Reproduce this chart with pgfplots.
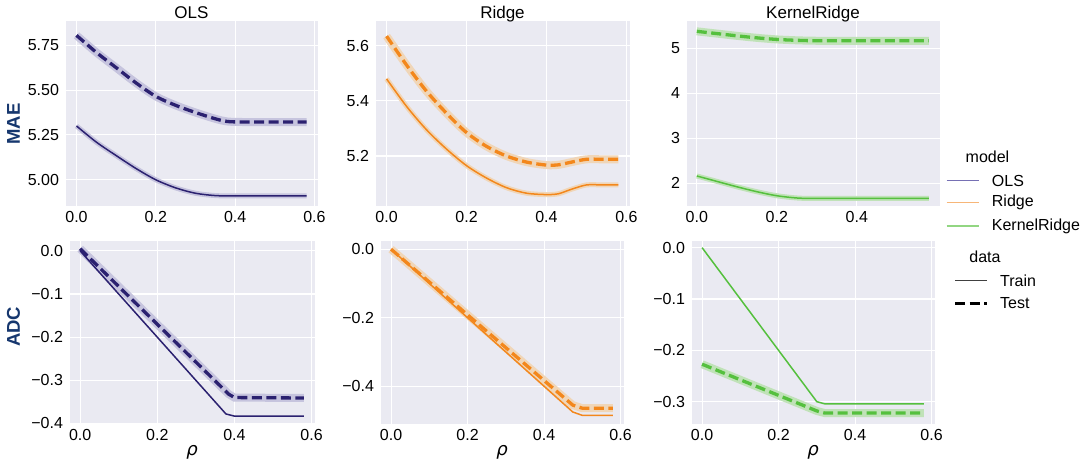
\documentclass[border=0pt]{standalone}
\usepackage{pgfplots}
\pgfplotsset{compat=1.18}
\usepackage{fontspec}
\setmainfont{Liberation Sans}
\newfontfamily\dejavu{DejaVu Sans}
\definecolor{bgc}{RGB}{234,234,242}
\definecolor{olsc}{RGB}{43,33,112}
\definecolor{ridc}{RGB}{243,135,28}
\definecolor{krc}{RGB}{85,192,62}
\definecolor{olsb}{RGB}{198,196,222}
\definecolor{ridb}{RGB}{240,214,184}
\definecolor{krb}{RGB}{192,226,184}
\definecolor{labc}{RGB}{22,55,110}
\definecolor{olsl}{RGB}{118,112,180}
\definecolor{ridl}{RGB}{247,182,120}
\definecolor{krl}{RGB}{146,214,130}
\pgfplotsset{
  sb/.style={scale only axis, anchor=south west,
    axis background/.style={fill=bgc},
    grid=major, major grid style={white, line width=1.1bp},
    axis line style={white, line width=1bp},
    major tick length=0pt,
    tick label style={font=\fontsize{16bp}{19bp}\selectfont},
    xticklabel style={yshift=-1.5bp},
    yticklabel style={xshift=-2.5bp},
    xmin=-0.029, xmax=0.609,
    xtick={0,0.2,0.4,0.6}, xticklabels={0.0,0.2,0.4,0.6},
    every axis title/.style={font=\fontsize{17bp}{20bp}\selectfont, at={(0.5,1)}, anchor=base, yshift=2.8bp},
  },
  xl/.style={xlabel={{\dejavu\itshape\fontsize{18bp}{20bp}\selectfont ρ}},
    xlabel style={at={(axis description cs:0.5,0)}, anchor=center, yshift=-28bp}},
  testband/.style={line width=8bp, #1},
  trainband/.style={line width=5bp, #1},
  testline/.style={line width=3.3bp, dash pattern=on 10bp off 4.5bp, #1},
  trainline/.style={line width=1.5bp, #1},
}
\begin{document}
\begin{tikzpicture}
\path[use as bounding box] (0,0) rectangle (1084bp,469bp);

% ---------- top row: MAE ----------
\begin{axis}[sb, at={(65bp,262.3bp)}, width=253bp, height=185.7bp,
  title={OLS}, ymin=4.85, ymax=5.885,
  ytick={5,5.25,5.5,5.75}, yticklabels={5.00,5.25,5.50,5.75}]
\addplot[testband=olsb, smooth] coordinates {(0,5.805)(0.05,5.71)(0.1,5.625)(0.15,5.54)(0.2,5.465)(0.25,5.415)(0.3,5.375)(0.35,5.34)(0.38,5.325)(0.42,5.322)(0.5,5.322)(0.58,5.322)};
\addplot[trainband=olsb, smooth] coordinates {(0,5.30)(0.05,5.21)(0.1,5.135)(0.15,5.063)(0.2,5.00)(0.25,4.955)(0.3,4.925)(0.35,4.912)(0.4,4.91)(0.5,4.91)(0.58,4.91)};
\addplot[testline=olsc, smooth] coordinates {(0,5.805)(0.05,5.71)(0.1,5.625)(0.15,5.54)(0.2,5.465)(0.25,5.415)(0.3,5.375)(0.35,5.34)(0.38,5.325)(0.42,5.322)(0.5,5.322)(0.58,5.322)};
\addplot[trainline=olsc, smooth] coordinates {(0,5.30)(0.05,5.21)(0.1,5.135)(0.15,5.063)(0.2,5.00)(0.25,4.955)(0.3,4.925)(0.35,4.912)(0.4,4.91)(0.5,4.91)(0.58,4.91)};
\end{axis}

\begin{axis}[sb, at={(375bp,262.3bp)}, width=255bp, height=185.7bp,
  title={Ridge}, ymin=5.016, ymax=5.69,
  ytick={5.2,5.4,5.6}, yticklabels={5.2,5.4,5.6}]
\addplot[testband=ridb, smooth] coordinates {(0,5.635)(0.05,5.53)(0.1,5.435)(0.15,5.355)(0.2,5.285)(0.25,5.235)(0.3,5.20)(0.35,5.178)(0.4,5.167)(0.43,5.168)(0.46,5.177)(0.5,5.188)(0.54,5.188)(0.58,5.188)};
\addplot[trainband=ridb, smooth] coordinates {(0,5.48)(0.05,5.38)(0.1,5.295)(0.15,5.225)(0.2,5.165)(0.25,5.12)(0.3,5.085)(0.35,5.065)(0.4,5.06)(0.43,5.063)(0.46,5.078)(0.5,5.095)(0.54,5.095)(0.58,5.095)};
\addplot[testline=ridc, smooth] coordinates {(0,5.635)(0.05,5.53)(0.1,5.435)(0.15,5.355)(0.2,5.285)(0.25,5.235)(0.3,5.20)(0.35,5.178)(0.4,5.167)(0.43,5.168)(0.46,5.177)(0.5,5.188)(0.54,5.188)(0.58,5.188)};
\addplot[trainline=ridc, smooth] coordinates {(0,5.48)(0.05,5.38)(0.1,5.295)(0.15,5.225)(0.2,5.165)(0.25,5.12)(0.3,5.085)(0.35,5.065)(0.4,5.06)(0.43,5.063)(0.46,5.078)(0.5,5.095)(0.54,5.095)(0.58,5.095)};
\end{axis}

\begin{axis}[sb, at={(686bp,262.3bp)}, width=254bp, height=185.7bp,
  title={KernelRidge}, ymin=1.476, ymax=5.61, xmin=-0.027, xmax=0.608,
  xtick={0,0.2,0.4}, xticklabels={0.0,0.2,0.4},
  ytick={2,3,4,5}, yticklabels={2,3,4,5}]
\addplot[testband=krb, smooth] coordinates {(0,5.38)(0.05,5.33)(0.1,5.28)(0.15,5.235)(0.2,5.20)(0.25,5.18)(0.3,5.17)(0.4,5.17)(0.5,5.17)(0.58,5.17)};
\addplot[trainband=krb, smooth] coordinates {(0,2.16)(0.05,2.04)(0.1,1.92)(0.15,1.81)(0.2,1.72)(0.25,1.67)(0.29,1.66)(0.4,1.66)(0.5,1.66)(0.58,1.66)};
\addplot[testline=krc, smooth] coordinates {(0,5.38)(0.05,5.33)(0.1,5.28)(0.15,5.235)(0.2,5.20)(0.25,5.18)(0.3,5.17)(0.4,5.17)(0.5,5.17)(0.58,5.17)};
\addplot[trainline=krc, smooth] coordinates {(0,2.16)(0.05,2.04)(0.1,1.92)(0.15,1.81)(0.2,1.72)(0.25,1.67)(0.29,1.66)(0.4,1.66)(0.5,1.66)(0.58,1.66)};
\end{axis}

% ---------- bottom row: ADC ----------
\begin{axis}[sb, xl, at={(69bp,44.7bp)}, width=246bp, height=183.3bp,
  ymin=-0.402, ymax=0.023,
  ytick={0,-0.1,-0.2,-0.3,-0.4}, yticklabels={0.0,−0.1,−0.2,−0.3,−0.4}]
\addplot[testband=olsb] coordinates {(0,0.005)(0.385,-0.332)(0.4,-0.34)(0.58,-0.341)};
\addplot[testline=olsc] coordinates {(0,0.005)(0.385,-0.332)(0.4,-0.34)(0.58,-0.341)};
\addplot[trainline=olsc] coordinates {(0,0)(0.378,-0.378)(0.4,-0.383)(0.58,-0.383)};
\end{axis}

\begin{axis}[sb, xl, at={(380bp,44.7bp)}, width=244bp, height=183.3bp,
  ymin=-0.511, ymax=0.024,
  ytick={0,-0.2,-0.4}, yticklabels={0.0,−0.2,−0.4}]
\addplot[testband=ridb] coordinates {(0,0)(0.475,-0.455)(0.5,-0.464)(0.58,-0.464)};
\addplot[testline=ridc] coordinates {(0,0)(0.475,-0.455)(0.5,-0.464)(0.58,-0.464)};
\addplot[trainline=ridc] coordinates {(0,0)(0.475,-0.475)(0.5,-0.485)(0.58,-0.485)};
\end{axis}

\begin{axis}[sb, xl, at={(691bp,44.7bp)}, width=244bp, height=183.3bp,
  ymin=-0.344, ymax=0.013,
  ytick={0,-0.1,-0.2,-0.3}, yticklabels={0.0,−0.1,−0.2,−0.3}]
\addplot[testband=krb] coordinates {(0,-0.227)(0.30,-0.318)(0.32,-0.322)(0.58,-0.322)};
\addplot[testline=krc] coordinates {(0,-0.227)(0.30,-0.318)(0.32,-0.322)(0.58,-0.322)};
\addplot[trainline=krc] coordinates {(0,0)(0.30,-0.30)(0.32,-0.304)(0.58,-0.304)};
\end{axis}

% ---------- row labels ----------
\node[rotate=90, font=\bfseries\fontsize{18.5bp}{20bp}\selectfont, text=labc] at (13.5bp,345bp) {MAE};
\node[rotate=90, font=\bfseries\fontsize{18.5bp}{20bp}\selectfont, text=labc] at (13.5bp,142.3bp) {ADC};

% ---------- legend ----------
\begin{scope}[font=\fontsize{16bp}{19bp}\selectfont]
\node at (987.5bp,312.3bp) {model};
\draw[olsl, line width=1.5bp] (946.7bp,288.3bp) -- (979.3bp,288.3bp);
\node[anchor=west, inner sep=0pt] at (991.7bp,288.3bp) {OLS};
\draw[ridl, line width=1.5bp] (946.7bp,266.3bp) -- (979.3bp,266.3bp);
\node[anchor=west, inner sep=0pt] at (991.7bp,266.3bp) {Ridge};
\draw[krl, line width=1.5bp] (946.7bp,243bp) -- (979.3bp,243bp);
\node[anchor=west, inner sep=0pt] at (991.7bp,243bp) {KernelRidge};
\node at (985bp,212.3bp) {data};
\draw[black!75, line width=1.2bp] (955bp,188.3bp) -- (986.5bp,188.3bp);
\node[anchor=west, inner sep=0pt] at (1000bp,188.3bp) {Train};
\draw[black, line width=3.3bp, dash pattern=on 10bp off 4.5bp] (955bp,165.7bp) -- (986.5bp,165.7bp);
\node[anchor=west, inner sep=0pt] at (1000bp,165.7bp) {Test};
\end{scope}
\end{tikzpicture}
\end{document}
